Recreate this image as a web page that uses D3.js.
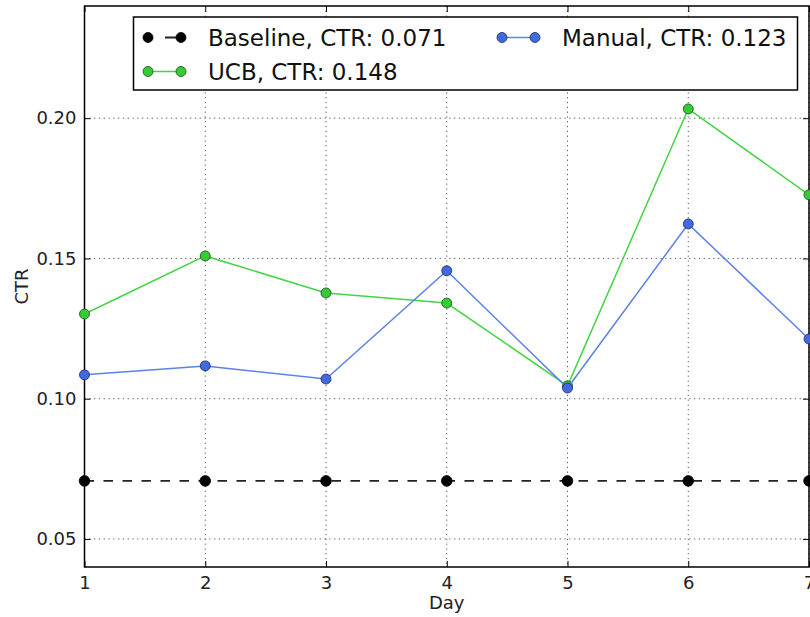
<!DOCTYPE html>
<html>
<head>
<meta charset="utf-8">
<script src="https://cdn.jsdelivr.net/npm/d3@7"></script>
<style>
  html, body { margin: 0; padding: 0; background: #fff; }
  svg { display: block; font-family: "DejaVu Sans", sans-serif; }
</style>
</head>
<body>
<svg id="chart" width="810" height="617"></svg>
<script>
const days = [1, 2, 3, 4, 5, 6, 7];
const baseline = [0.0707, 0.0707, 0.0707, 0.0707, 0.0707, 0.0707, 0.0707];
const ucb = [0.1302, 0.1509, 0.1377, 0.1341, 0.1046, 0.2033, 0.1727];
const manual = [0.1085, 0.1117, 0.1070, 0.1456, 0.1038, 0.1623, 0.1213];
const seriesNames = ["Baseline, CTR: 0.071", "UCB, CTR: 0.148", "Manual, CTR: 0.123"];
const yTicks = [0.05, 0.10, 0.15, 0.20];
const xTicks = [1, 2, 3, 4, 5, 6, 7];
const yDomain = [0.04, 0.24];
const xLabel = "Day";
const yLabel = "CTR";

const svg = d3.select("#chart");
const L = 84.5, R = 809, T = 6, B = 567;
const x = d3.scaleLinear().domain([1, 7]).range([L, R]);
const y = d3.scaleLinear().domain(yDomain).range([B, T]);

// grid
const grid = svg.append("g");
grid.selectAll(".gx").data(xTicks).enter().append("line")
  .attr("x1", d => x(d)).attr("x2", d => x(d)).attr("y1", T).attr("y2", B)
  .attr("stroke", "#555").attr("stroke-width", 1).attr("stroke-dasharray", "1.2,3.6");
grid.selectAll(".gy").data(yTicks).enter().append("line")
  .attr("x1", L).attr("x2", R).attr("y1", d => y(d)).attr("y2", d => y(d))
  .attr("stroke", "#555").attr("stroke-width", 1).attr("stroke-dasharray", "1.2,3.6");

// axes ticks (inward) on all sides
const tickLen = 6;
const axB = svg.append("g").attr("transform", `translate(0,${B})`)
  .call(d3.axisBottom(x).tickValues(xTicks).tickSize(-tickLen).tickPadding(9).tickFormat(d3.format("d")));
const axT = svg.append("g").attr("transform", `translate(0,${T})`)
  .call(d3.axisTop(x).tickValues(xTicks).tickSize(-tickLen).tickFormat(""));
const axL = svg.append("g").attr("transform", `translate(${L},0)`)
  .call(d3.axisLeft(y).tickValues(yTicks).tickSize(-tickLen).tickPadding(9).tickFormat(d3.format(".2f")));
const axR = svg.append("g").attr("transform", `translate(${R},0)`)
  .call(d3.axisRight(y).tickValues(yTicks).tickSize(-tickLen).tickFormat(""));
[axB, axT, axL, axR].forEach(a => {
  a.select(".domain").remove();
  a.selectAll(".tick line").attr("stroke", "#000").attr("stroke-width", 1);
  a.selectAll("text").attr("font-size", 18).attr("fill", "#222").attr("font-family", "DejaVu Sans");
});
axL.selectAll("text").attr("x", -8);

// frame
svg.append("rect").attr("x", L).attr("y", T).attr("width", R - L).attr("height", B - T)
  .attr("fill", "none").attr("stroke", "#000").attr("stroke-width", 1.5);

const line = d3.line().x((d, i) => x(days[i])).y(d => y(d));

function drawSeries(vals, lineColor, fill, dash, width, r, stroke) {
  const g = svg.append("g");
  g.append("path").datum(vals).attr("d", line).attr("fill", "none")
    .attr("stroke", lineColor).attr("stroke-width", width)
    .attr("stroke-dasharray", dash || null);
  g.selectAll("circle").data(vals).enter().append("circle")
    .attr("cx", (d, i) => x(days[i])).attr("cy", d => y(d)).attr("r", r)
    .attr("fill", fill).attr("stroke", stroke).attr("stroke-width", 0.8);
}
drawSeries(baseline, "#222", "#000", "9.5,9.5", 1.8, 5.3, "#000");
drawSeries(ucb, "#44d444", "#33cc33", null, 1.5, 5, "#1a4d1a");
drawSeries(manual, "#5b82e8", "#4169e1", null, 1.5, 5, "#1a2a5a");

// legend
const lg = svg.append("g");
lg.append("rect").attr("x", 133.5).attr("y", 17).attr("width", 664).attr("height", 73)
  .attr("fill", "#fff").attr("stroke", "#000").attr("stroke-width", 1.5);
const legendItems = [
  {name: seriesNames[0], lc: "#222", fc: "#000", sc: "#000", dash: "0,17,16,10", x0: 148, y0: 37.5},
  {name: seriesNames[1], lc: "#44d444", fc: "#33cc33", sc: "#1a4d1a", dash: null, x0: 148, y0: 71.5},
  {name: seriesNames[2], lc: "#5b82e8", fc: "#4169e1", sc: "#1a2a5a", dash: null, x0: 502, y0: 37.5}
];
legendItems.forEach(it => {
  lg.append("line").attr("x1", it.x0).attr("x2", it.x0 + 33).attr("y1", it.y0).attr("y2", it.y0)
    .attr("stroke", it.lc).attr("stroke-width", it.dash ? 1.8 : 1.5)
    .attr("stroke-dasharray", it.dash);
  [it.x0, it.x0 + 33].forEach(cx => lg.append("circle").attr("cx", cx).attr("cy", it.y0).attr("r", 5)
    .attr("fill", it.fc).attr("stroke", it.sc).attr("stroke-width", 0.8));
  lg.append("text").attr("x", it.x0 + 60).attr("y", it.y0 + 8.5).attr("font-size", 23)
    .attr("fill", "#111").text(it.name);
});

// axis labels
svg.append("text").attr("x", (L + R) / 2).attr("y", 609).attr("text-anchor", "middle")
  .attr("font-size", 18).attr("fill", "#222").text(xLabel);
svg.append("text").attr("transform", `translate(28,${(T + B) / 2}) rotate(-90)`)
  .attr("text-anchor", "middle").attr("font-size", 18).attr("fill", "#222").text(yLabel);
</script>
</body>
</html>
